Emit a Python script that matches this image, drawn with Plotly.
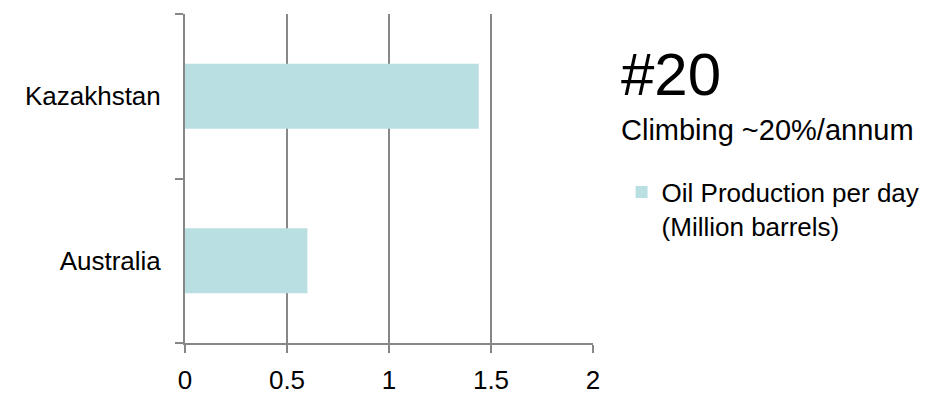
import plotly.graph_objects as go

# Oil production per day, million barrels
countries = ["Australia", "Kazakhstan"]
production = [0.6, 1.44]
series_name = "Oil Production per day<br>(Million barrels)"

x_ticks = [0, 0.5, 1, 1.5, 2]
x_tick_labels = ["0", "0.5", "1", "1.5", "2"]

rank_text = "#20"
growth_text = "Climbing ~20%/annum"

FONT = "Liberation Sans, Arial, sans-serif"
GRID = "#878787"
BAR = "#BADFE3"

fig = go.Figure(
    go.Bar(
        y=countries,
        x=production,
        orientation="h",
        name=series_name,
        marker=dict(color=BAR, line=dict(width=0)),
        width=0.395,
        showlegend=True,
    )
)

fig.update_layout(
    width=948,
    height=393,
    margin=dict(l=185, r=355, t=14, b=50, pad=0),
    paper_bgcolor="white",
    plot_bgcolor="white",
    font=dict(family=FONT, size=26, color="#000000"),
    xaxis=dict(
        range=[0, 2],
        tickvals=x_ticks,
        ticktext=x_tick_labels,
        showgrid=True,
        gridcolor=GRID,
        gridwidth=2,
        zeroline=False,
        showline=True,
        linecolor=GRID,
        linewidth=2,
        ticks="outside",
        ticklen=8,
        tickwidth=2,
        tickcolor=GRID,
        tickfont=dict(size=26),
        ticklabelstandoff=5,
        automargin=False,
        fixedrange=True,
    ),
    yaxis=dict(
        type="category",
        categoryorder="array",
        categoryarray=countries,
        range=[-0.5, 1.5],
        showgrid=False,
        zeroline=False,
        showline=True,
        linecolor=GRID,
        linewidth=2,
        ticks="outside",
        tickson="boundaries",
        ticklen=8,
        tickwidth=2,
        tickcolor=GRID,
        tickfont=dict(size=26),
        ticklabelstandoff=17,
        automargin=False,
        fixedrange=True,
    ),
    legend=dict(
        x=1.07,
        y=0.53,
        xanchor="left",
        yanchor="top",
        valign="top",
        font=dict(size=26),
        bgcolor="rgba(0,0,0,0)",
        itemwidth=30,
    ),
    annotations=[
        dict(
            text=rank_text,
            xref="paper",
            yref="paper",
            x=1.064,
            y=0.924,
            xanchor="left",
            yanchor="top",
            showarrow=False,
            font=dict(size=60, family=FONT),
        ),
        dict(
            text=growth_text,
            xref="paper",
            yref="paper",
            x=1.064,
            y=0.703,
            xanchor="left",
            yanchor="top",
            showarrow=False,
            font=dict(size=29, family=FONT),
        ),
    ],
)

fig.write_html("out.html")
